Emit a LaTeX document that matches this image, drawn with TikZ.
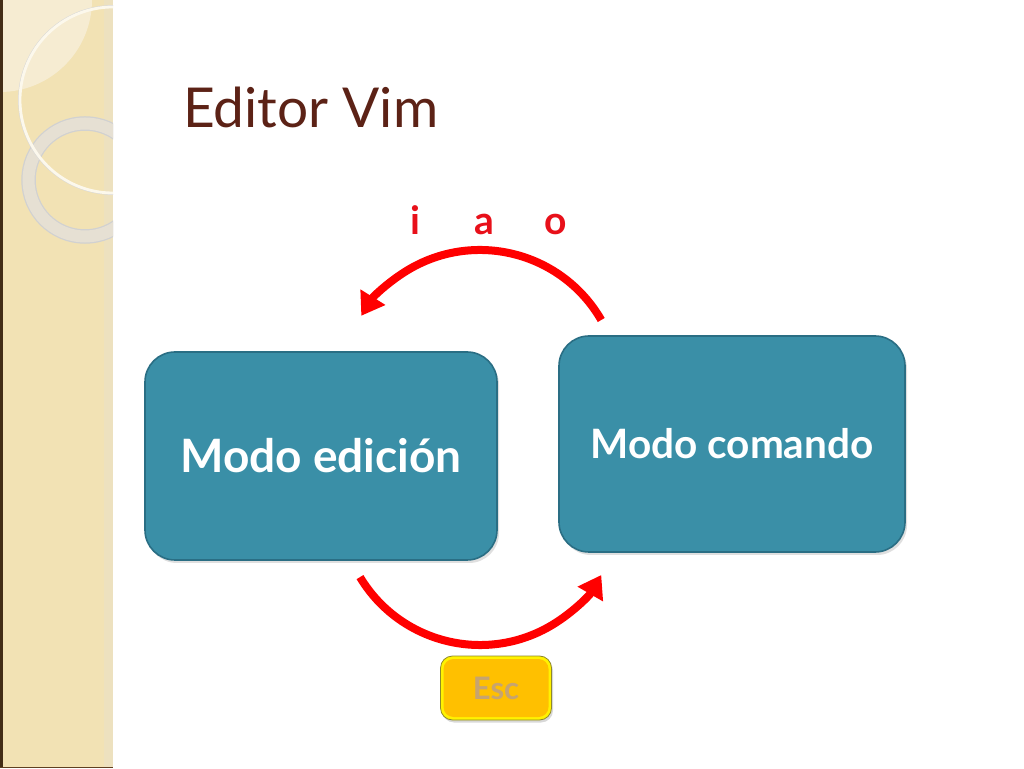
\documentclass[tikz,border=0pt]{standalone}
\usepackage{fontspec}
\setmainfont{Lato}
\usetikzlibrary{arrows.meta,shadows}
\definecolor{strip}{HTML}{F2E2B4}
\definecolor{stripl}{HTML}{F6ECD2}
\definecolor{ring}{HTML}{E6E0D3}
\definecolor{titlec}{HTML}{5C2216}
\definecolor{teal}{HTML}{3A8FA7}
\definecolor{tealb}{HTML}{2A6E84}
\definecolor{arcred}{HTML}{FF0000}
\definecolor{lblred}{HTML}{E8101A}
\definecolor{escfill}{HTML}{FFC000}
\definecolor{esctext}{HTML}{C6A470}
\tikzset{
  modebox/.style={draw=tealb, line width=1.6pt, fill=teal, rounded corners=30pt,
    text=white, font=\bfseries, align=center, inner sep=0pt,
    drop shadow={shadow xshift=2pt, shadow yshift=-3pt, opacity=0.25}},
  flowarc/.style={draw=arcred, line width=8pt, -{Triangle[length=22pt,width=28pt]}},
  keylbl/.style={text=lblred, font=\bfseries\fontsize{39}{39}\selectfont, inner sep=0pt},
}
\begin{document}
\begin{tikzpicture}[x=1pt,y=1pt]
\useasboundingbox (0,0) rectangle (1024,768);
\fill[white] (0,0) rectangle (1024,768);
% decorative strip
\fill[strip] (0,0) rectangle (113,768);
\begin{scope}
\clip (0,0) rectangle (113,768);
\fill[stripl] (0,768) circle[radius=92];
\fill[black!12, opacity=0.25] (104,0) rectangle (113,768);
\draw[black!18, line width=14.5pt] (85,588) circle[radius=56.5];
\draw[ring, line width=12pt] (85,588) circle[radius=56.5];
\draw[black!15, line width=0.8pt] (113,668) circle[radius=94.5];
\draw[white!75!strip, line width=2.8pt] (113,668) circle[radius=93];
\end{scope}
\fill[black!65!brown] (0,0) rectangle (3,768);
\fill[black!50!brown] (0,0) rectangle (113,1.5);
% title
\node[anchor=base west, inner sep=0pt, text=titlec, font=\fontsize{55}{55}\selectfont] (title) at (183,640) {Editor Vim};
% boxes
\node[modebox, minimum width=352pt, minimum height=208pt, font=\bfseries\fontsize{46}{46}\selectfont] (edit) at (321,312) {Modo edición};
\node[modebox, minimum width=346pt, minimum height=216pt, font=\bfseries\fontsize{40.5}{40.5}\selectfont] (cmd) at (732,324) {Modo comando};
% arcs
\coordinate (ctop) at (480,378);
\coordinate (cbot) at (480,263);
\draw[flowarc] ([shift={(30:140)}]ctop) arc[start angle=30, end angle=148, radius=140];
\draw[flowarc] ([shift={(211:140)}]cbot) arc[start angle=211, end angle=330, radius=140];
% key labels
\node[keylbl, anchor=base] (ki) at (415,533) {i};
\node[keylbl, anchor=base] (ka) at (484,533) {a};
\node[keylbl, anchor=base] (ko) at (556,533) {o};
% Esc
\node[draw=olive!70!gray, line width=0.8pt, fill=yellow, rounded corners=12pt,
  minimum width=111pt, minimum height=64pt, inner sep=0pt,
  drop shadow={shadow xshift=1.5pt, shadow yshift=-2.5pt, opacity=0.3}] (escb) at (496,80) {};
\node[fill=escfill, rounded corners=10pt, minimum width=105pt, minimum height=58pt, inner sep=0pt,
  text=esctext, font=\bfseries\fontsize{31}{31}\selectfont] (esc) at (escb.center) {Esc};
\end{tikzpicture}
\end{document}
